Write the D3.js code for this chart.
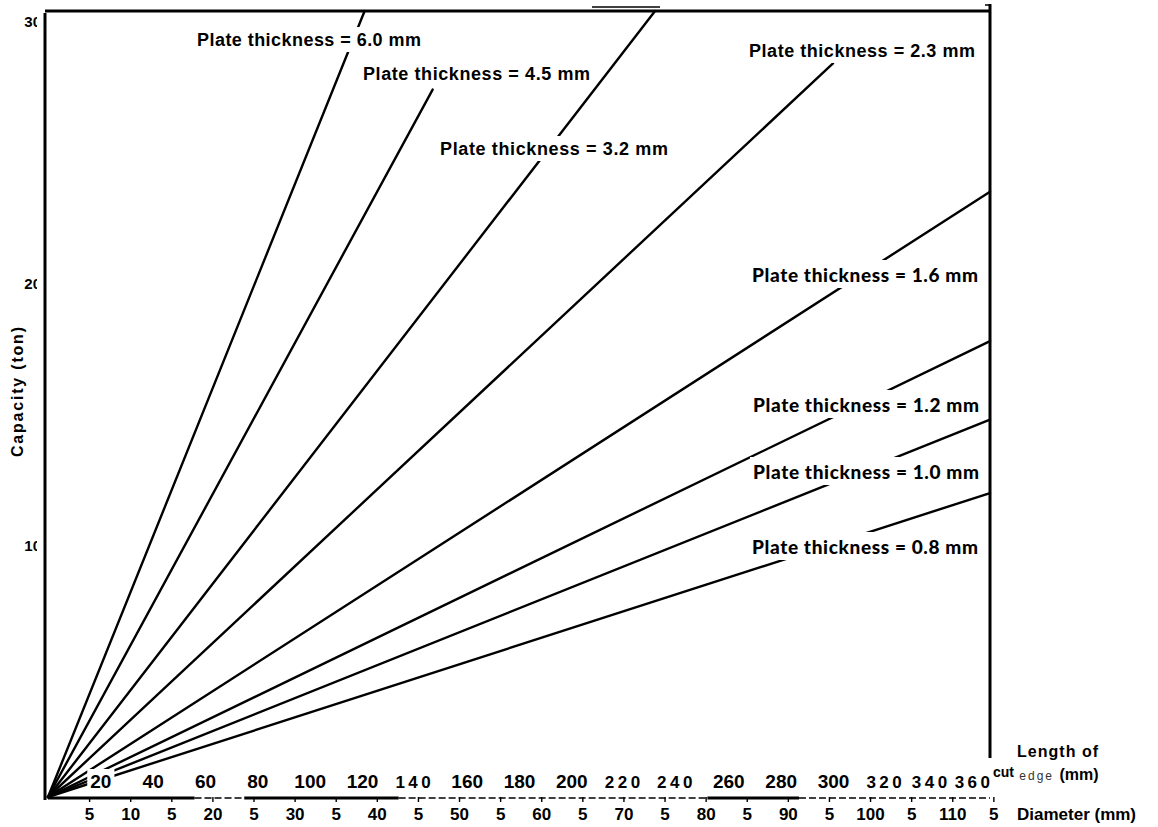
<!DOCTYPE html>
<html>
<head>
<meta charset="utf-8">
<script src="https://cdn.jsdelivr.net/npm/d3@7"></script>
<style>
  html, body { margin: 0; padding: 0; background: #fff; }
  svg { display: block; }
</style>
</head>
<body>
<svg id="chart" width="1158" height="827"></svg>
<script>
// Shearing capacity of a press against the length of the cut edge,
// one straight line per plate thickness.
const plateThickness = ["6.0", "4.5", "3.2", "2.3", "1.6", "1.2", "1.0", "0.8"];
// Where each line stops: length of cut edge (mm) and capacity (ton).
const endLength   = [121, 147, 232, 300, 360, 360, 360, 360];
const endCapacity = [30, 27.0, 30, 28.0, 23.1, 17.4, 14.4, 11.6];

const lengthTicks = [20, 40, 60, 80, 100, 120, 140, 160, 180, 200, 220, 240, 260, 280, 300, 320, 340, 360];
const spacedLengthTicks = [140, 220, 240, 320, 340, 360];
const diameterTicks  = [5, 10, 15, 20, 25, 30, 35, 40, 45, 50, 55, 60, 65, 70, 75, 80, 85, 90, 95, 100, 105, 110, 115];
const diameterLabels = ["5", "10", "5", "20", "5", "30", "5", "40", "5", "50", "5", "60", "5", "70", "5", "80", "5", "90", "5", "100", "5", "110", "5"];
const capacityTicks = [10, 20, 30];

// Label placement (left edge, baseline, fitted width) for each thickness line.
const labelLayout = [
  { x: 197, y: 46,  w: 224 },
  { x: 363, y: 80,  w: 227 },
  { x: 440, y: 155, w: 228 },
  { x: 749, y: 57,  w: 226 },
  { x: 752, y: 282, w: 226 },
  { x: 753, y: 412, w: 226 },
  { x: 753, y: 479, w: 226 },
  { x: 752, y: 554, w: 226 }
];

const svg = d3.select("#chart");
const ink = "#000";
const sans = "'Liberation Sans', Arial, sans-serif";

const x = d3.scaleLinear().domain([0, 360]).range([48, 990]);
const y = d3.scaleLinear().domain([0, 30]).range([797, 11]);
// Diameter of a round blank whose circumference equals the cut length.
const xd = d3.scaleLinear().domain([0, 360 / Math.PI]).range([48, 990]);

// Frame
svg.append("line").attr("x1", 45).attr("x2", 45).attr("y1", 13).attr("y2", 800)
  .attr("stroke", ink).attr("stroke-width", 3);
svg.append("line").attr("x1", 45).attr("x2", 991).attr("y1", 11).attr("y2", 11)
  .attr("stroke", ink).attr("stroke-width", 3);
svg.append("line").attr("x1", 990).attr("x2", 990).attr("y1", 4).attr("y2", 758)
  .attr("stroke", ink).attr("stroke-width", 3);
svg.append("line").attr("x1", 985).attr("x2", 991).attr("y1", 5).attr("y2", 5)
  .attr("stroke", ink).attr("stroke-width", 1.5);
svg.append("line").attr("x1", 592).attr("x2", 660).attr("y1", 7).attr("y2", 7)
  .attr("stroke", ink).attr("stroke-width", 1.5);

// Thickness lines
const line = d3.line().x(d => x(d[0])).y(d => y(d[1]));
svg.append("g").selectAll("path")
  .data(plateThickness.map((t, i) => [[0, 0], [endLength[i], endCapacity[i]]]))
  .join("path")
  .attr("d", line)
  .attr("fill", "none")
  .attr("stroke", ink)
  .attr("stroke-width", 2.4)
  .attr("stroke-linecap", "round");

// Line labels on white ground, breaking the lines they sit on
const labels = svg.append("g");
plateThickness.forEach((t, i) => {
  const L = labelLayout[i];
  const upper = i < 4;
  const g = labels.append("g");
  const rect = g.append("rect").attr("fill", "#fff");
  const txt = g.append("text")
    .attr("x", L.x).attr("y", L.y)
    .attr("font-family", upper ? sans : "Lato, 'Open Sans', sans-serif")
    .attr("font-weight", upper ? "bold" : 900)
    .attr("font-size", upper ? 18 : 19)
    .attr("fill", ink)
    .attr("textLength", L.w)
    .attr("lengthAdjust", "spacing")
    .text(`Plate thickness = ${t} mm`);
  const b = txt.node().getBBox();
  rect.attr("x", b.x - 3).attr("y", b.y - 3).attr("width", b.width + 6).attr("height", b.height + 5);
});

// Length-of-cut-edge tick labels, sitting just above the diameter scale
const lenShift = { 340: -7, 360: 3 };
const lenAxis = svg.append("g").attr("transform", "translate(0,788)")
  .call(d3.axisBottom(x).tickValues(lengthTicks).tickSize(0).tickFormat(d3.format("d")));
lenAxis.select(".domain").remove();
lenAxis.selectAll(".tick text")
  .attr("y", 0).attr("dy", 0)
  .attr("font-family", sans)
  .attr("font-weight", "bold")
  .attr("font-size", d => spacedLengthTicks.includes(d) ? 17 : 19)
  .attr("letter-spacing", d => spacedLengthTicks.includes(d) ? 3.5 : 0)
  .attr("text-anchor", d => d === 360 ? "end" : "middle")
  .attr("dx", d => lenShift[d] || 0)
  .attr("fill", ink);
lenAxis.selectAll(".tick").each(function () {
  const tick = d3.select(this);
  const b = tick.select("text").node().getBBox();
  tick.insert("rect", "text").attr("fill", "#fff")
    .attr("x", b.x - 3).attr("y", b.y - 2).attr("width", b.width + 6).attr("height", b.height + 2);
});

// Diameter scale
const diaAxis = svg.append("g").attr("transform", "translate(0,798)")
  .call(d3.axisBottom(xd).tickValues(diameterTicks).tickSize(4)
    .tickFormat((d, i) => diameterLabels[i]));
diaAxis.select(".domain").remove();
diaAxis.selectAll(".tick line").attr("stroke", ink).attr("stroke-width", 1.4).attr("y1", -1);
diaAxis.selectAll(".tick text")
  .attr("y", 22).attr("dy", 0)
  .attr("font-family", sans)
  .attr("font-weight", "bold")
  .attr("font-size", 17)
  .attr("fill", ink);
// Base line of the scale, heavy in places and broken elsewhere
[[0, 56, true], [56, 75, false], [75, 134, true], [134, 252, false], [252, 287, true], [287, 360, false]]
  .forEach(([a, b, heavy]) => {
    diaAxis.append("line")
      .attr("x1", x(a)).attr("x2", x(b)).attr("y1", 0).attr("y2", 0)
      .attr("stroke", ink)
      .attr("stroke-width", heavy ? 3 : 1.3)
      .attr("stroke-dasharray", heavy ? null : "7,3");
  });

// Capacity tick labels (the left edge of the sheet trims them)
svg.append("defs").append("clipPath").attr("id", "leftTrim")
  .append("rect").attr("x", 0).attr("y", 0).attr("width", 37).attr("height", 827);
const capOuter = svg.append("g").attr("clip-path", "url(#leftTrim)");
const capAxis = capOuter.append("g").attr("transform", "translate(41,0)")
  .call(d3.axisLeft(y).tickValues(capacityTicks).tickSize(0).tickPadding(0).tickFormat(d3.format("d")));
capAxis.select(".domain").remove();
capAxis.selectAll(".tick text")
  .attr("dy", "1.05em")
  .attr("font-family", sans)
  .attr("font-weight", "bold")
  .attr("font-size", 15)
  .attr("fill", ink);

// Axis titles
svg.append("text")
  .attr("transform", "translate(23,392) rotate(-90)")
  .attr("text-anchor", "middle")
  .attr("font-family", sans)
  .attr("font-weight", "bold")
  .attr("font-size", 16)
  .attr("textLength", 130)
  .attr("lengthAdjust", "spacing")
  .attr("fill", ink)
  .text("Capacity (ton)");

svg.append("text")
  .attr("x", 1017).attr("y", 757)
  .attr("font-family", sans)
  .attr("font-weight", "bold").attr("font-size", 16)
  .attr("textLength", 81).attr("lengthAdjust", "spacing")
  .attr("fill", ink)
  .text("Length of");

const cutTitle = svg.append("text")
  .attr("x", 993).attr("y", 780)
  .attr("font-family", sans)
  .attr("fill", ink);
cutTitle.append("tspan").attr("font-weight", "bold").attr("font-size", 14).attr("dy", -3).text("cut");
cutTitle.append("tspan").attr("font-size", 12).attr("letter-spacing", 2).attr("fill", "#333").attr("dy", 3).text(" edge ");
cutTitle.append("tspan").attr("font-weight", "bold").attr("font-size", 16).text("(mm)");

svg.append("text")
  .attr("x", 1017).attr("y", 820)
  .attr("font-family", sans)
  .attr("font-weight", "bold").attr("font-size", 17)
  .attr("fill", ink)
  .text("Diameter (mm)");
</script>
</body>
</html>
